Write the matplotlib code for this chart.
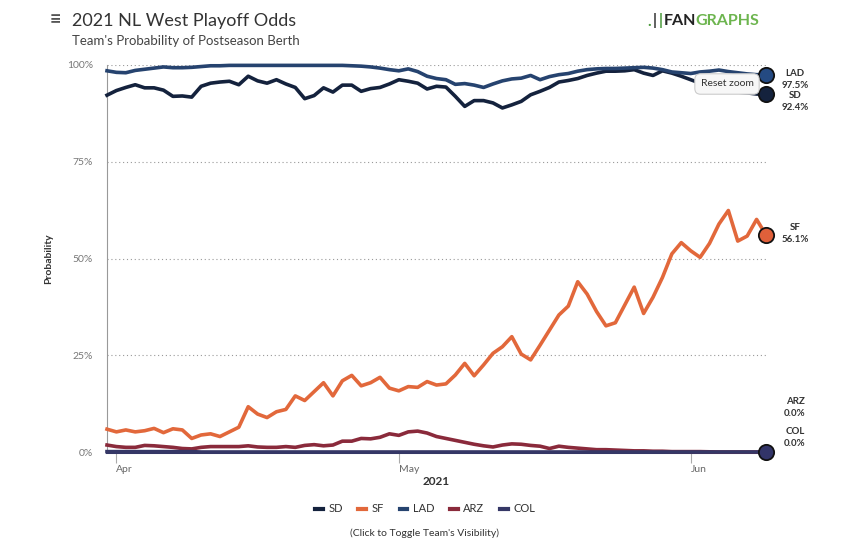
import numpy as np
import pandas as pd
import matplotlib
matplotlib.use("Agg")
import matplotlib.pyplot as plt
import matplotlib.dates as mdates
from matplotlib.lines import Line2D

plt.rcParams['font.family'] = ['Lato', 'DejaVu Sans']

dates = pd.date_range("2021-03-31", "2021-06-09", freq="D")

sd = [92.2, 93.4, 94.2, 94.9, 94.1, 94.1, 93.5, 91.9, 92.0, 91.7,
      94.5, 95.3, 95.6, 95.8, 94.9, 97.1, 95.9, 95.3, 96.2, 95.1,
      94.2, 91.3, 92.1, 94.1, 93.0, 94.8, 94.8, 93.2, 93.9, 94.2,
      95.1, 96.2, 95.8, 95.3, 93.8, 94.5, 94.3, 91.9, 89.3, 90.8,
      90.8, 90.2, 88.9, 89.7, 90.6, 92.3, 93.2, 94.2, 95.6, 96.0,
      96.5, 97.3, 97.9, 98.4, 98.4, 98.5, 98.8, 97.9, 97.3, 98.5,
      97.9, 97.1, 96.2, 95.3, 94.5, 94.0, 93.5, 93.0, 92.8, 92.5, 92.4]

lad = [98.5, 98.1, 98.0, 98.6, 98.9, 99.2, 99.5, 99.3, 99.3, 99.4,
       99.6, 99.8, 99.8, 99.9, 99.9, 99.9, 99.9, 99.9, 99.9, 99.9,
       99.9, 99.9, 99.9, 99.9, 99.9, 99.9, 99.8, 99.7, 99.5, 99.2,
       98.8, 98.5, 99.0, 98.3, 97.1, 96.5, 96.2, 95.0, 95.2, 94.8,
       94.2, 95.1, 95.9, 96.4, 96.6, 97.3, 96.2, 97.0, 97.5, 97.8,
       98.4, 98.8, 99.0, 99.1, 99.1, 99.2, 99.3, 99.4, 99.2, 98.8,
       98.2, 98.0, 97.8, 98.2, 98.4, 98.7, 98.3, 98.0, 97.7, 97.5, 97.5]

sf = [5.9, 5.2, 5.7, 5.2, 5.5, 6.1, 5.0, 6.0, 5.7, 3.5,
      4.4, 4.7, 4.0, 5.2, 6.4, 11.7, 9.8, 8.9, 10.4, 11.0,
      14.5, 13.3, 15.6, 17.9, 14.5, 18.4, 19.8, 17.1, 17.9, 19.3,
      16.5, 15.8, 16.9, 16.7, 18.2, 17.3, 17.6, 19.9, 22.9, 19.7,
      22.5, 25.5, 27.2, 29.8, 25.3, 23.8, 27.6, 31.5, 35.4, 37.7,
      44.0, 40.8, 36.3, 32.6, 33.4, 38.0, 42.6, 35.8, 40.0, 45.1,
      51.2, 54.1, 52.0, 50.3, 53.9, 58.9, 62.4, 54.5, 55.8, 60.1, 56.1]

arz = [1.8, 1.4, 1.2, 1.2, 1.7, 1.6, 1.4, 1.2, 0.9, 0.8,
       1.2, 1.4, 1.4, 1.4, 1.4, 1.6, 1.3, 1.2, 1.2, 1.4,
       1.2, 1.7, 1.9, 1.6, 1.8, 2.8, 2.8, 3.5, 3.4, 3.8,
       4.7, 4.3, 5.2, 5.4, 4.9, 4.0, 3.5, 3.0, 2.5, 2.0,
       1.6, 1.3, 1.8, 2.1, 2.0, 1.7, 1.5, 0.9, 1.5, 1.2,
       1.0, 0.8, 0.6, 0.6, 0.5, 0.4, 0.3, 0.3, 0.2, 0.2,
       0.1, 0.1, 0.1, 0.1, 0.05, 0.0, 0.0, 0.0, 0.0, 0.0, 0.0]

col = [0.1] * 10 + [0.0] * 61

teams = ["SD", "SF", "LAD", "ARZ", "COL"]
series = [sd, sf, lad, arz, col]
colors = ["#14223d", "#e2683b", "#26436f", "#8a2a3b", "#353766"]
marker_fill = ["#14223d", "#e0603a", "#244a82", "#8a2a3b", "#323468"]
final_labels = ["92.4%", "56.1%", "97.5%", "0.0%", "0.0%"]

fig = plt.figure(figsize=(8.5, 5.57), dpi=100)
ax = fig.add_axes([107 / 850, 1 - 452 / 557, (766 - 107) / 850, (452 - 65) / 557])

for pct in [25, 50, 75, 100]:
    ax.axhline(pct, color="#999999", lw=0.8, ls=(0, (1, 2.5)), zorder=1)

draw_order = [4, 3, 1, 2, 0]
for k in draw_order:
    ax.plot(dates, series[k], color=colors[k], lw=2.6, solid_joinstyle="round",
            clip_on=False, zorder=3 + k * 0.1)

# end markers (ARZ is hidden behind COL)
for k in [0, 1, 2, 4]:
    ax.plot(dates[-1], series[k][-1], "o", ms=11, mfc=marker_fill[k],
            mec="#111111", mew=1.3, clip_on=False, zorder=6)

# right side labels
lab_y = {"LAD": 79, "SD": 102, "SF": 234, "ARZ": 408, "COL": 438}
for k, t in enumerate(teams):
    y = 1 - lab_y[t] / 557
    fig.text(795 / 850, y + 6 / 557, t, ha="center", va="center", fontsize=7,
             fontweight="bold", color="#333333")
    fig.text(795 / 850, y - 6 / 557, final_labels[k], ha="center", va="center",
             fontsize=7, fontweight="bold", color="#333333")

ax.set_xlim(dates[0], dates[-1])
ax.set_ylim(0, 100)
ax.set_yticks([0, 25, 50, 75, 100])
ax.set_yticklabels(["0%", "25%", "50%", "75%", "100%"])
ax.xaxis.set_major_locator(mdates.MonthLocator())
ax.xaxis.set_major_formatter(mdates.DateFormatter("%b"))

for s in ["top", "right"]:
    ax.spines[s].set_visible(False)
ax.spines["left"].set_color("#999999")
ax.spines["left"].set_linewidth(0.8)
ax.spines["bottom"].set_color("#353766")
ax.spines["bottom"].set_linewidth(2.2)
ax.tick_params(axis="y", length=0, pad=10, labelsize=7.5, labelcolor="#777777")
ax.tick_params(axis="x", length=8, width=0.8, color="#aaaaaa", pad=1,
               labelsize=7.5, labelcolor="#666666")
for lab in ax.get_xticklabels():
    lab.set_horizontalalignment("left")

ax.set_xlabel("2021", fontsize=8.5, fontweight="bold", color="#333333", labelpad=2)
ax.set_ylabel("Probability", fontsize=7.5, fontweight="bold", color="#333333", labelpad=10)

# titles
fig.text(72 / 850, 1 - 21 / 557, "2021 NL West Playoff Odds", fontsize=13,
         color="#333333", va="center")
fig.text(72 / 850, 1 - 41 / 557, "Team's Probability of Postseason Berth",
         fontsize=9.5, color="#444444", va="center")
fig.text(50 / 850, 1 - 20 / 557, "\u2261", fontsize=14, color="#555555",
         va="center", fontweight="bold")

# logo
fig.text(647 / 850, 1 - 22 / 557, ".", fontsize=11, color="#4a9a3a",
         va="center", ha="left", fontweight="bold")
fig.text(653 / 850, 1 - 21 / 557, "|", fontsize=11, color="#333333",
         va="center", ha="left", fontweight="bold")
fig.text(659 / 850, 1 - 21 / 557, "|", fontsize=11, color="#4a9a3a",
         va="center", ha="left", fontweight="bold")
fig.text(696 / 850, 1 - 21 / 557, "FAN", fontsize=11.5, color="#222222",
         va="center", ha="right", fontweight="bold")
fig.text(695 / 850, 1 - 21 / 557, "GRAPHS", fontsize=11.5, color="#6db54f",
         va="center", ha="left", fontweight="bold")

# reset zoom button
fig.text(727 / 850, 1 - 84 / 557, "Reset zoom", fontsize=7.5, color="#333333",
         ha="center", va="center", zorder=10,
         bbox=dict(boxstyle="round,pad=0.55", fc="#f7f7f7", ec="#cccccc", lw=0.8))

# legend
handles = [Line2D([0], [0], color=colors[k], lw=3) for k in range(5)]
fig.legend(handles, teams, loc="center", bbox_to_anchor=(425 / 850, 1 - 509 / 557),
           ncol=5, frameon=False, handlelength=0.7, handletextpad=0.5,
           columnspacing=1.4, fontsize=8, labelcolor="#333333")
fig.text(425 / 850, 1 - 533 / 557, "(Click to Toggle Team's Visibility)",
         fontsize=7.5, color="#333333", ha="center", va="center")

fig.savefig("out.png", dpi=100, facecolor="white")
